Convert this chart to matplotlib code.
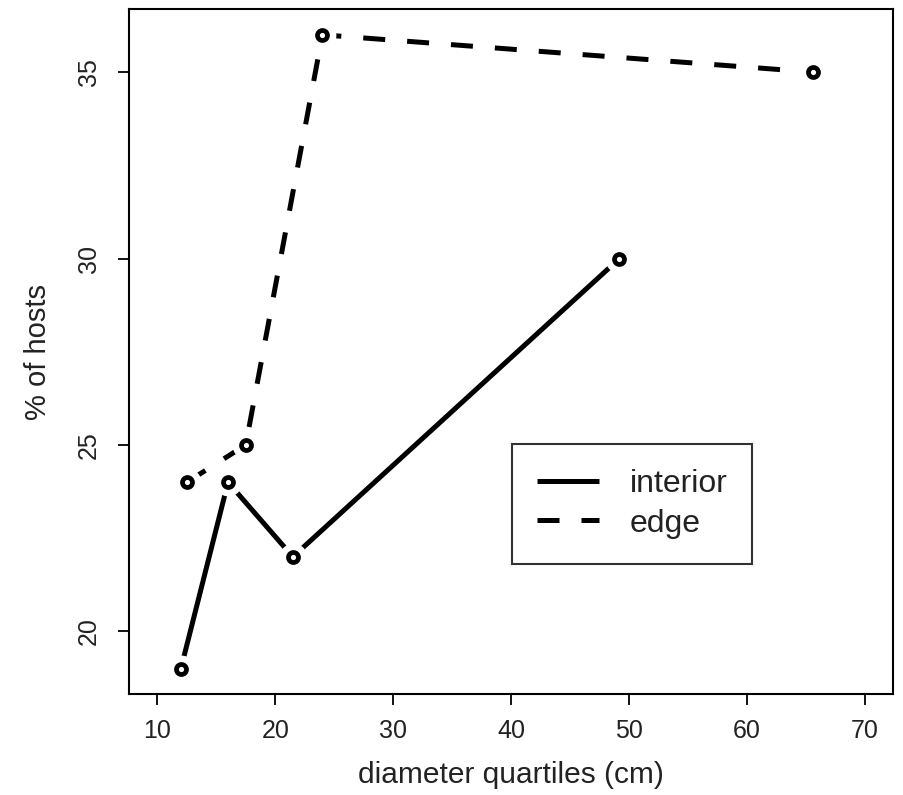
import numpy as np
import matplotlib
matplotlib.use("Agg")
import matplotlib.pyplot as plt

plt.rcParams['font.family'] = ['Liberation Sans', 'DejaVu Sans']

# diameter quartiles (cm) vs % of hosts
interior_x = [12.0, 16.0, 21.5, 49.2]
interior_y = [19, 24, 22, 30]
edge_x = [12.5, 17.5, 24.0, 65.6]
edge_y = [24, 25, 36, 35]

xticks = [10, 20, 30, 40, 50, 60, 70]
yticks = [20, 25, 30, 35]

fig = plt.figure(figsize=(9.04, 7.95), dpi=100)
ax = fig.add_axes([0.1427, 0.1270, 0.8451, 0.8611])

lw = 3.6
dash = (0, (4.4, 4.4))

# lines first, then white halos to get R's type="b" gaps, then open circles
ax.plot(interior_x, interior_y, color='black', lw=lw, solid_capstyle='butt',
        label='interior', zorder=2)
ax.plot(edge_x, edge_y, color='black', lw=lw, linestyle=dash,
        dash_capstyle='butt', label='edge', zorder=2)
for xs, ys in [(interior_x, interior_y), (edge_x, edge_y)]:
    ax.plot(xs, ys, linestyle='none', marker='o', ms=19, mfc='white',
            mec='white', zorder=3)
    ax.plot(xs, ys, linestyle='none', marker='o', ms=7.2, mfc='white',
            mec='black', mew=3.4, zorder=4)

ax.set_xlim(7.6, 72.4)
ax.set_ylim(18.32, 36.68)
ax.set_xticks(xticks)
ax.set_yticks(yticks)

for s in ax.spines.values():
    s.set_linewidth(1.5)
ax.tick_params(direction='out', length=8, width=1.3, labelsize=18,
               color='black', labelcolor='#222222')
ax.tick_params(axis='x', pad=10)
ax.tick_params(axis='y', pad=12, labelrotation=90)
for lab in ax.get_yticklabels():
    lab.set_va('center')

ax.set_xlabel('diameter quartiles (cm)', fontsize=21.5, color='#222222')
ax.set_ylabel('% of hosts', fontsize=21, color='#222222')
ax.xaxis.set_label_coords(0.5, -0.118)
ax.xaxis.label.set_va('center')
ax.yaxis.set_label_coords(-0.119, 0.5)
ax.yaxis.label.set_va('center')

leg = ax.legend(loc='upper left', bbox_to_anchor=(0.501, 0.365),
                borderaxespad=0, fontsize=23, handlelength=1.96,
                handletextpad=0.95, labelspacing=0.3, borderpad=0.78,
                fancybox=False, frameon=True)
leg.get_frame().set_edgecolor('black')
leg.get_frame().set_linewidth(1.5)
for t in leg.get_texts():
    t.set_color('#222222')

fig.savefig('out.png', dpi=100)
